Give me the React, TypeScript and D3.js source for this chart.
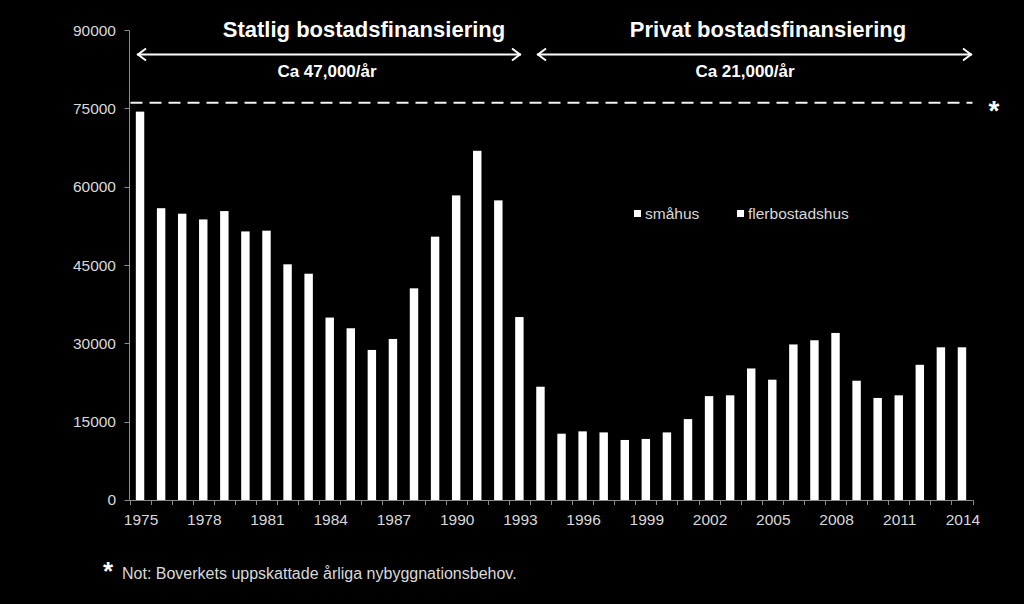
import React, { useEffect, useRef } from "react";
import * as d3 from "d3";

const years: number[] = [
  1975, 1976, 1977, 1978, 1979, 1980, 1981, 1982, 1983, 1984,
  1985, 1986, 1987, 1988, 1989, 1990, 1991, 1992, 1993, 1994,
  1995, 1996, 1997, 1998, 1999, 2000, 2001, 2002, 2003, 2004,
  2005, 2006, 2007, 2008, 2009, 2010, 2011, 2012, 2013, 2014,
];
const completions: number[] = [
  74400, 55900, 54850, 53750, 55350, 51450, 51600, 45150, 43350, 34950,
  32900, 28750, 30850, 40550, 50450, 58350, 66900, 57400, 35050, 21700,
  12700, 13150, 12950, 11500, 11700, 12950, 15500, 19900, 20050, 25200,
  23050, 29800, 30600, 32000, 22850, 19550, 20050, 25900, 29250, 29250,
];
const yTicks: number[] = [0, 15000, 30000, 45000, 60000, 75000, 90000];
const xLabelYears: number[] = [1975, 1978, 1981, 1984, 1987, 1990, 1993, 1996, 1999, 2002, 2005, 2008, 2011, 2014];
const needLevel = 76100;
const legendItems: string[] = ["småhus", "flerbostadshus"];
const periods = [
  { title: "Statlig bostadsfinansiering", note: "Ca 47,000/år", from: 1975, to: 1993 },
  { title: "Privat bostadsfinansiering", note: "Ca 21,000/år", from: 1994, to: 2014 },
];
const footnote = "Not: Boverkets uppskattade årliga nybyggnationsbehov.";

const W = 1024;
const H = 604;
const FONT = "Arial, 'Liberation Sans', sans-serif";

export default function App() {
  const ref = useRef<SVGSVGElement | null>(null);

  useEffect(() => {
    const svg = d3.select(ref.current);
    svg.selectAll("*").remove();

    const left = 129.5, right = 972.5, top = 30.2, bottom = 500;
    const x = d3.scaleBand<number>().domain(years).range([left, right]).paddingInner(0.6).paddingOuter(0.3);
    const y = d3.scaleLinear().domain([0, 90000]).range([bottom, top]);
    const step = x.step();

    svg.append("rect").attr("width", W).attr("height", H).attr("fill", "#000");

    // bars
    svg.append("g").selectAll("rect").data(years).join("rect")
      .attr("x", (d) => (x(d) as number))
      .attr("width", x.bandwidth())
      .attr("y", (d, i) => y(completions[i]))
      .attr("height", (d, i) => bottom - y(completions[i]))
      .attr("fill", "#fff");

    const axisColor = "#8c8c8c";
    const textColor = "#d9d9d9";
    const tickFont = "15.5px";

    // y axis
    const gy = svg.append("g");
    gy.append("line").attr("x1", left).attr("x2", left).attr("y1", top).attr("y2", bottom)
      .attr("stroke", axisColor).attr("stroke-width", 1);
    yTicks.forEach((t) => {
      gy.append("line").attr("x1", left - 5).attr("x2", left).attr("y1", Math.round(y(t)) + 0.5).attr("y2", Math.round(y(t)) + 0.5)
        .attr("stroke", axisColor);
      gy.append("text").attr("x", 116).attr("y", y(t)).attr("dy", "0.35em")
        .attr("text-anchor", "end").attr("fill", textColor)
        .style("font-family", FONT).style("font-size", tickFont).text(String(t));
    });

    // x axis
    const gx = svg.append("g");
    gx.append("line").attr("x1", left).attr("x2", right).attr("y1", bottom + 0.5).attr("y2", bottom + 0.5)
      .attr("stroke", axisColor);
    d3.range(years.length + 1).forEach((i) => {
      const xx = Math.round(left + i * step) + 0.5;
      gx.append("line").attr("x1", xx).attr("x2", xx).attr("y1", bottom).attr("y2", bottom + 5).attr("stroke", axisColor);
    });
    xLabelYears.forEach((yr) => {
      gx.append("text").attr("x", (x(yr) as number) + x.bandwidth() / 2 + 1).attr("y", 525)
        .attr("text-anchor", "middle").attr("fill", textColor)
        .style("font-family", FONT).style("font-size", tickFont).text(String(yr));
    });

    // dashed need line
    svg.append("line").attr("x1", left + 1).attr("x2", right).attr("y1", y(needLevel)).attr("y2", y(needLevel))
      .attr("stroke", "#f2f2f2").attr("stroke-width", 2).attr("stroke-dasharray", "12,7");
    svg.append("text").attr("x", 994).attr("y", 120).attr("text-anchor", "middle")
      .attr("fill", "#fff").style("font-family", FONT).style("font-size", "28px").style("font-weight", "bold").text("*");

    // period arrows and headings
    const arrowY = 54.5;
    const pos = [
      { x1: 137, x2: 521 },
      { x1: 537, x2: 972 },
    ];
    periods.forEach((p, i) => {
      const { x1, x2 } = pos[i];
      const g = svg.append("g");
      g.append("line").attr("x1", x1).attr("x2", x2).attr("y1", arrowY).attr("y2", arrowY)
        .attr("stroke", "#fff").attr("stroke-width", 2);
      g.append("path").attr("d", `M${x1 + 9},${arrowY - 6} L${x1 + 1},${arrowY} L${x1 + 9},${arrowY + 6}`)
        .attr("fill", "none").attr("stroke", "#fff").attr("stroke-width", 2);
      g.append("path").attr("d", `M${x2 - 9},${arrowY - 6} L${x2 - 1},${arrowY} L${x2 - 9},${arrowY + 6}`)
        .attr("fill", "none").attr("stroke", "#fff").attr("stroke-width", 2);
      const tcx = i === 0 ? 364 : 768;
      const ncx = i === 0 ? 327 : 745;
      g.append("text").attr("x", tcx).attr("y", 37).attr("text-anchor", "middle").attr("fill", "#fff")
        .style("font-family", FONT).style("font-size", "22px").style("font-weight", "bold").text(p.title);
      g.append("text").attr("x", ncx).attr("y", 77).attr("text-anchor", "middle").attr("fill", "#fff")
        .style("font-family", FONT).style("font-size", "17px").style("font-weight", "bold").text(p.note);
    });

    // legend
    const lg = svg.append("g");
    const lx = [634, 737];
    legendItems.forEach((name, i) => {
      lg.append("rect").attr("x", lx[i]).attr("y", 210).attr("width", 7).attr("height", 7).attr("fill", "#fff");
      lg.append("text").attr("x", lx[i] + 11).attr("y", 219).attr("fill", textColor)
        .style("font-family", FONT).style("font-size", tickFont).text(name);
    });

    // footnote
    svg.append("text").attr("x", 108).attr("y", 580).attr("text-anchor", "middle").attr("fill", "#fff")
      .style("font-family", FONT).style("font-size", "26px").style("font-weight", "bold").text("*");
    svg.append("text").attr("x", 122).attr("y", 579).attr("fill", textColor)
      .style("font-family", FONT).style("font-size", "16px").text(footnote);
  }, []);

  return (
    <svg
      ref={ref}
      width={W}
      height={H}
      style={{ position: "absolute", left: 0, top: 0, display: "block" }}
    />
  );
}
